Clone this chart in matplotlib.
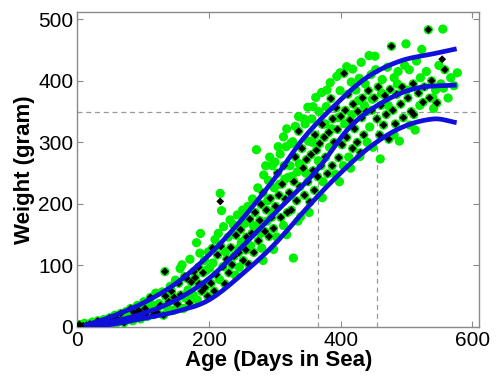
import matplotlib
matplotlib.use("Agg")
import matplotlib.pyplot as plt
import numpy as np

plt.rcParams['font.family'] = ['Liberation Sans', 'DejaVu Sans']

# ---- data (age in days, weight in grams) ----
green_pts = [
    (1, 1), (3, 4), (6, 0), (9, 2), (11, 6), (14, 3), (17, 1), (19, 5), (23, 8), (26, 3), (29, 6), (31, 10),
    (34, 4), (37, 7), (40, 12), (43, 5), (46, 9), (49, 15), (51, 7), (54, 11), (57, 19), (59, 6),
    (61, 13), (64, 9), (66, 22), (69, 16), (71, 7), (74, 25), (76, 12), (79, 19), (81, 30), (84, 10), (86, 23),
    (89, 17), (91, 35), (93, 27), (96, 13), (99, 21), (101, 41), (103, 30), (106, 17), (109, 26), (111, 48),
    (113, 36), (116, 20), (118, 31), (119, 55),
    (121, 24), (124, 38), (126, 35), (129, 57), (131, 19), (133, 90), (134, 50), (137, 30), (139, 41), (141, 66),
    (143, 58), (146, 27), (147, 48), (149, 76), (152, 37), (154, 71), (156, 95), (157, 52), (159, 101), (161, 30),
    (163, 82), (164, 47), (166, 79), (168, 60), (170, 39), (171, 110), (173, 73), (176, 52), (177, 90), (179, 80),
    (181, 137), (182, 44), (184, 97), (185, 70), (186, 120), (187, 152), (189, 58), (191, 88), (193, 108),
    (194, 64), (196, 92), (198, 50), (199, 122),
    (201, 96), (203, 71), (205, 128), (206, 104), (208, 58), (209, 142), (211, 85), (213, 117), (214, 152),
    (216, 77), (217, 217), (218, 131), (219, 189), (221, 98), (222, 163), (224, 70), (225, 122), (227, 110),
    (229, 146), (230, 88), (232, 174), (233, 129), (235, 101), (237, 166), (238, 115), (240, 84), (241, 149),
    (243, 182), (245, 121), (246, 97), (246, 128), (248, 158), (249, 137), (251, 190), (252, 108), (253, 140),
    (254, 168), (256, 125), (257, 146), (259, 196), (260, 102),
    (262, 175), (263, 132), (265, 152), (266, 208), (267, 165), (268, 121), (270, 186), (271, 161), (272, 288),
    (274, 226), (275, 140), (277, 173), (278, 152), (279, 199), (280, 128), (282, 218), (282, 108), (283, 247),
    (285, 155), (286, 262), (287, 190), (288, 172), (289, 205), (290, 238), (291, 147), (292, 276), (293, 209),
    (295, 178), (296, 262), (297, 188), (298, 160), (298, 126), (299, 226), (300, 268), (301, 196), (303, 146),
    (304, 250), (305, 293), (306, 214), (307, 232), (308, 281), (309, 178), (311, 232), (313, 165), (313, 309),
    (314, 262), (315, 240), (316, 208), (317, 293), (318, 322), (318, 150), (319, 186), (320, 243),
    (322, 218), (323, 262), (324, 298), (325, 190), (326, 245), (327, 301), (328, 112), (329, 236), (331, 276),
    (331, 326), (333, 205), (334, 252), (335, 172), (336, 318), (336, 342), (337, 265), (338, 228), (339, 179),
    (341, 290), (343, 258), (344, 338), (345, 214), (346, 330), (347, 250), (348, 272), (350, 236), (350, 357),
    (351, 302), (352, 186), (353, 203), (355, 280), (356, 338), (357, 300), (358, 254), (358, 358), (360, 222),
    (361, 312), (362, 373), (363, 287), (365, 244), (366, 270), (367, 350), (368, 298), (370, 262), (371, 381),
    (372, 329), (372, 210), (373, 236), (375, 308), (376, 330), (377, 276), (378, 358), (379, 385), (380, 249),
    (382, 316), (383, 292), (384, 397), (385, 371), (386, 322), (387, 262), (388, 338), (390, 300), (392, 248),
    (393, 356), (394, 407), (395, 321), (396, 340), (397, 275), (398, 236), (399, 384), (399, 413), (400, 342),
    (402, 296), (404, 262), (405, 412), (406, 330), (407, 352), (409, 308), (409, 423), (411, 378), (412, 276),
    (414, 336), (415, 258), (416, 398), (417, 345), (418, 290), (418, 419), (419, 362), (421, 322), (423, 385),
    (425, 300), (426, 350), (427, 368), (428, 404), (429, 277), (430, 283), (431, 430), (432, 340), (433, 372),
    (435, 312), (436, 360), (437, 395), (439, 350), (440, 300),
    (442, 384), (443, 441), (444, 325), (446, 410), (447, 352), (448, 370), (449, 292), (451, 372), (452, 440),
    (453, 418), (455, 338), (457, 390), (459, 312), (460, 273), (461, 360), (462, 380), (463, 402), (465, 328),
    (467, 376), (469, 345), (471, 422), (472, 360), (473, 305), (475, 386), (477, 456), (479, 352), (481, 405),
    (481, 312), (483, 330), (485, 378), (486, 395), (487, 415), (489, 302), (491, 362), (493, 390), (495, 340),
    (497, 425), (499, 460),
    (500, 385), (502, 372), (504, 418), (505, 328), (507, 350), (510, 395), (511, 345), (513, 320), (515, 432),
    (518, 380), (520, 360), (521, 405), (523, 451), (525, 365), (527, 390), (530, 415), (533, 483), (535, 372),
    (538, 400), (540, 372), (541, 355), (544, 385), (546, 364), (549, 425), (552, 395), (555, 484), (556, 388),
    (558, 418), (563, 372), (567, 405), (572, 392), (577, 413),
]

black_pts = [
    (3, 4), (9, 2), (14, 3), (19, 5), (26, 3), (31, 10), (37, 7), (43, 5), (49, 15), (54, 11), (61, 13), (66, 22),
    (71, 7), (76, 12), (81, 30), (86, 23), (89, 17), (93, 27), (99, 21), (103, 30), (106, 17), (111, 48), (116, 20),
    (121, 24), (126, 35), (131, 19), (133, 90), (134, 50), (139, 41), (143, 58), (147, 48), (152, 37), (154, 71),
    (157, 52), (163, 82), (166, 79), (170, 39), (173, 73), (177, 90), (179, 80), (184, 97), (185, 70), (189, 58),
    (191, 88), (194, 64), (198, 50),
    (203, 71), (205, 128), (208, 58), (211, 85), (213, 117), (217, 204), (218, 131), (221, 98), (224, 70),
    (227, 110), (230, 88), (233, 129), (235, 101), (238, 115), (241, 149), (245, 121), (248, 158), (252, 108),
    (256, 125), (257, 146), (260, 102), (262, 175), (265, 152), (268, 121), (270, 186), (275, 140), (277, 173),
    (279, 199), (282, 218), (285, 155), (287, 190), (291, 147), (293, 209), (295, 178), (298, 160), (301, 196),
    (304, 250), (306, 214), (309, 178), (311, 232), (314, 262), (316, 208), (319, 186), (322, 218), (325, 190),
    (329, 236), (331, 276), (333, 205), (336, 318), (338, 228), (341, 290), (343, 258), (345, 214), (348, 272),
    (350, 236), (353, 203), (355, 280), (358, 254), (360, 222), (361, 312), (363, 287), (365, 244), (368, 298),
    (370, 262), (372, 329), (375, 308), (377, 276), (380, 249), (382, 316), (385, 371), (387, 262), (388, 338),
    (390, 300), (393, 356), (395, 321), (397, 275), (400, 342), (402, 296), (405, 412), (407, 352), (409, 308),
    (411, 378), (414, 336), (418, 290), (419, 362), (421, 322), (425, 300), (426, 350), (430, 283), (432, 340),
    (433, 372), (435, 312), (439, 350), (442, 384), (447, 352), (451, 372), (455, 338), (457, 390), (459, 312),
    (461, 360), (465, 328), (467, 376), (469, 345), (473, 305), (475, 386), (477, 456), (479, 352), (483, 330),
    (485, 378), (491, 362), (493, 390), (495, 340),
    (502, 372), (507, 350), (510, 395), (511, 345), (518, 380), (525, 365), (527, 390), (533, 483), (535, 372),
    (538, 400), (546, 364), (554, 435), (558, 418),
]

upper_x = [10, 50, 100, 150, 200, 250, 300, 343, 389, 439, 490, 541, 576]
upper_y = [2, 16, 39, 71, 117, 175, 242, 306, 358, 405, 432, 444, 452]
middle_x = [10, 50, 100, 150, 200, 250, 300, 364, 414, 465, 515, 576]
middle_y = [1, 8, 22, 44, 79, 130, 185, 255, 325, 366, 388, 393]
lower_x = [10, 50, 100, 150, 200, 257, 300, 350, 389, 439, 490, 541, 576]
lower_y = [0, 4, 14, 25, 44, 92, 135, 195, 239, 288, 323, 338, 332]

target_weight = 350
target_days = [365, 455]

xticks = [0, 200, 400, 600]
yticks = [0, 100, 200, 300, 400, 500]


def smooth(xs, ys, n=200):
    """Cubic Hermite curve through the read points."""
    xs = np.asarray(xs, float); ys = np.asarray(ys, float)
    xx = np.linspace(xs[0], xs[-1], n)
    out = []
    for t in xx:
        i = int(np.clip(np.searchsorted(xs, t) - 1, 0, len(xs) - 2))
        x0, x1 = xs[i], xs[i + 1]
        y0, y1 = ys[i], ys[i + 1]
        m0 = (ys[i + 1] - ys[i - 1]) / (xs[i + 1] - xs[i - 1]) if i > 0 else (y1 - y0) / (x1 - x0)
        m1 = (ys[i + 2] - ys[i]) / (xs[i + 2] - xs[i]) if i + 2 < len(xs) else (y1 - y0) / (x1 - x0)
        h = x1 - x0
        s = (t - x0) / h
        h00 = 2 * s**3 - 3 * s**2 + 1
        h10 = s**3 - 2 * s**2 + s
        h01 = -2 * s**3 + 3 * s**2
        h11 = s**3 - s**2
        out.append(h00 * y0 + h10 * h * m0 + h01 * y1 + h11 * h * m1)
    return xx, np.array(out)


fig = plt.figure(figsize=(4.99, 3.78), dpi=100)
ax = fig.add_axes([0.155, 0.135, 0.805, 0.832])

gray = '#8a8a8a'
ax.axhline(target_weight, color='#999999', lw=0.9, ls=(0, (4, 3)), zorder=1)
for d in target_days:
    ax.plot([d, d], [0, target_weight], color='#999999', lw=0.9, ls=(0, (4, 3)), zorder=1)

gx, gy = zip(*green_pts)
bx, by = zip(*black_pts)
ax.scatter(gx, gy, s=44, c='#00f000', edgecolors='none', zorder=2)
ax.scatter(bx, by, s=16, marker='D', c='black', edgecolors='none', zorder=3)

for xs, ys in [(upper_x, upper_y), (middle_x, middle_y), (lower_x, lower_y)]:
    sx, sy = smooth(xs, ys)
    ax.plot(sx, sy, color='#1010dd', lw=3.4, solid_capstyle='butt', zorder=4)

ax.set_xlim(0, 610)
ax.set_ylim(0, 511)
ax.set_xticks(xticks)
ax.set_yticks(yticks)
ax.tick_params(direction='in', length=4, width=0.8, colors=gray, labelcolor='black',
               labelsize=15, top=True, right=True, pad=3)
ax.tick_params(axis='x', pad=3)
for sp in ax.spines.values():
    sp.set_color(gray)
    sp.set_linewidth(1.0)

ax.set_xlabel('Age (Days in Sea)', fontsize=16, fontweight='bold', labelpad=0)
ax.set_ylabel('Weight (gram)', fontsize=16, fontweight='bold', labelpad=2)

fig.savefig('out.png', dpi=100)
